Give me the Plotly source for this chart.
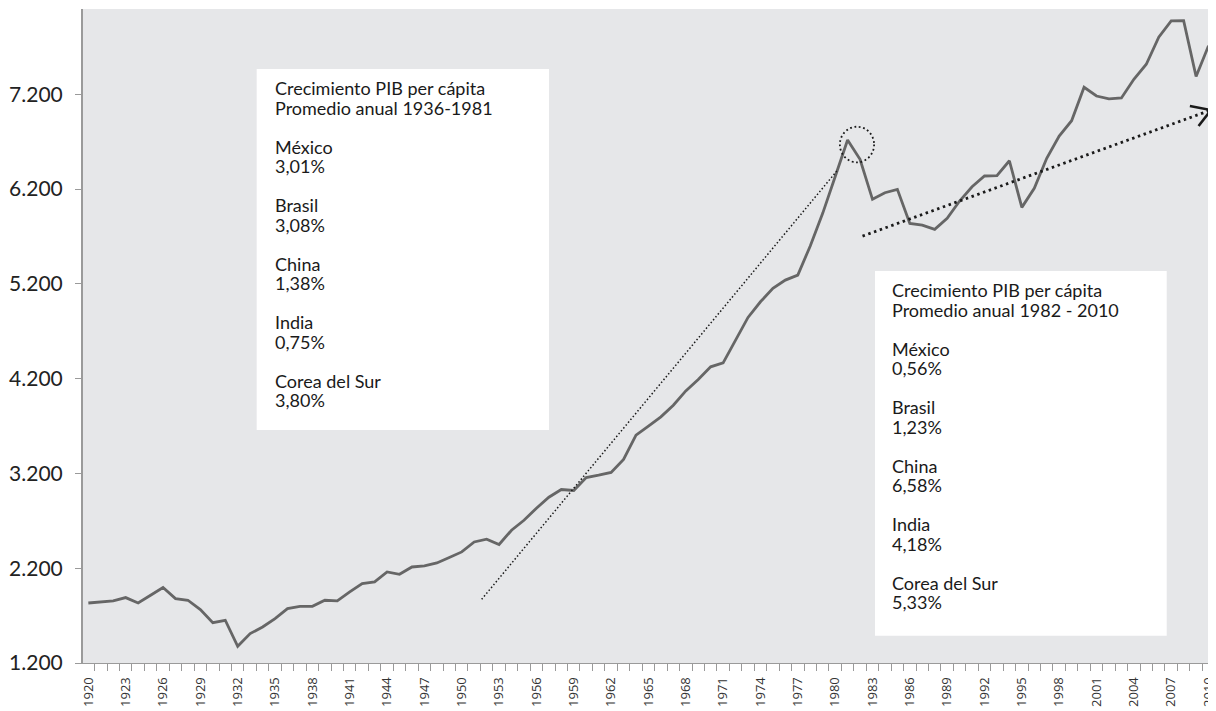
import plotly.graph_objects as go

# PIB per cápita de México, 1920-2010
years = list(range(1920, 2011))
gdp_pc = [
    1833, 1844, 1855, 1890, 1833, 1915, 1996, 1880, 1862, 1763,   # 1920-1929
    1626, 1651, 1376, 1510, 1580, 1669, 1774, 1798, 1798, 1862,   # 1930-1939
    1855, 1950, 2038, 2055, 2161, 2136, 2213, 2224, 2256, 2313,   # 1940-1949
    2372, 2477, 2506, 2450, 2601, 2706, 2833, 2949, 3030, 3020,   # 1950-1959
    3157, 3181, 3210, 3347, 3604, 3699, 3797, 3920, 4071, 4192,   # 1960-1969
    4325, 4367, 4607, 4846, 5011, 5152, 5240, 5293, 5600, 5944,   # 1970-1979
    6330, 6718, 6514, 6092, 6162, 6197, 5838, 5820, 5775, 5891,   # 1980-1989
    6074, 6225, 6338, 6341, 6499, 6007, 6208, 6525, 6760, 6921,   # 1990-1999
    7274, 7182, 7151, 7161, 7359, 7517, 7802, 7974, 7977, 7388,   # 2000-2009
    7713,                                                         # 2010
]

y_tickvals = [1200, 2200, 3200, 4200, 5200, 6200, 7200]
y_ticktext = ["1.200", "2.200", "3.200", "4.200", "5.200", "6.200", "7.200"]
x_tickvals = years[::3]
x_ticktext = [str(y) for y in x_tickvals]

countries = ["México", "Brasil", "China", "India", "Corea del Sur"]
growth_1936_1981 = ["3,01%", "3,08%", "1,38%", "0,75%", "3,80%"]
growth_1982_2010 = ["0,56%", "1,23%", "6,58%", "4,18%", "5,33%"]

# trend guides (year, value)
trend_pre = [(1951.6, 1872), (1980.2, 6401)]
trend_post = [(1982.2, 5704), (2010.2, 7034)]
arrow_arms = [(2008.5, 7076), (2009.2, 6865)]
peak_circle = [(1980.38, 6482), (1983.13, 6858)]


def box_text(period, values):
    lines = ["Crecimiento PIB per cápita", "Promedio anual " + period]
    for c, v in zip(countries, values):
        lines += ["", c, v]
    # line spacing follows the outer font size, glyphs use the span size
    return "<span style='font-size:18px'>" + "<br>".join(lines) + "</span>"


fig = go.Figure()
fig.add_trace(go.Scatter(
    x=years, y=gdp_pc, mode="lines",
    line=dict(color="#666666", width=2.8),
    hoverinfo="skip", showlegend=False,
))

ink = "#1a1a1a"
shapes = [
    # white text boxes
    dict(type="rect", xref="paper", yref="paper", x0=0.1533, x1=0.4113,
         y0=0.3563, y1=0.9083, fillcolor="white", line_width=0, layer="below"),
    dict(type="rect", xref="paper", yref="paper", x0=0.6990, x1=0.9565,
         y0=0.0417, y1=0.5994, fillcolor="white", line_width=0, layer="below"),
    # thin dotted trend 1936-1981
    dict(type="line", x0=trend_pre[0][0], y0=trend_pre[0][1],
         x1=trend_pre[1][0], y1=trend_pre[1][1],
         line=dict(color=ink, width=1.5, dash="1.5px,2.2px")),
    # circle around the 1981 peak
    dict(type="circle", x0=peak_circle[0][0], y0=peak_circle[0][1],
         x1=peak_circle[1][0], y1=peak_circle[1][1],
         line=dict(color=ink, width=1.8, dash="1.8px,2.6px")),
    # thick dotted trend 1982-2010
    dict(type="line", x0=trend_post[0][0], y0=trend_post[0][1],
         x1=trend_post[1][0], y1=trend_post[1][1],
         line=dict(color=ink, width=2.8, dash="2.5px,3.6px")),
]
for ax, ay in arrow_arms:
    shapes.append(dict(type="line", x0=ax, y0=ay,
                       x1=trend_post[1][0], y1=trend_post[1][1],
                       line=dict(color=ink, width=2.6)))

txt_font = dict(family="Lato, 'Open Sans', sans-serif", size=15, color=ink)
annotations = [
    dict(xref="paper", yref="paper", x=0.1677, y=0.8990,
         xanchor="left", yanchor="top", align="left", showarrow=False,
         text=box_text("1936-1981", growth_1936_1981), font=txt_font),
    dict(xref="paper", yref="paper", x=0.7123, y=0.5902,
         xanchor="left", yanchor="top", align="left", showarrow=False,
         text=box_text("1982 - 2010", growth_1982_2010), font=txt_font),
]

# the page body adds an 8px offset, so the figure is 8px smaller here
fig.update_layout(
    width=1208, height=703,
    margin=dict(l=75, r=0, t=1, b=48),
    paper_bgcolor="white",
    plot_bgcolor="#e6e7e9",
    showlegend=False,
    shapes=shapes,
    annotations=annotations,
    xaxis=dict(
        range=[1919.57, 2010.6],
        tickmode="array", tickvals=x_tickvals, ticktext=x_ticktext,
        ticks="", tickangle=-90,
        tickfont=dict(family="'Open Sans', sans-serif", size=13, color="#333333"),
        ticklabelstandoff=8,
        ticklabeloverflow="allow",
        showgrid=False, zeroline=False,
        showline=True, linecolor="#9a9a9a", linewidth=1,
        minor=dict(tick0=1919.5, dtick=1, ticks="outside", ticklen=7,
                   tickcolor="#9a9a9a", tickwidth=1),
        automargin=False,
    ),
    yaxis=dict(
        range=[1200, 8100],
        tickmode="array", tickvals=y_tickvals, ticktext=y_ticktext,
        ticks="outside", ticklen=6, tickcolor="#9a9a9a", tickwidth=1,
        tickfont=dict(family="Lato, sans-serif", size=21, color="#222222"),
        ticklabelstandoff=8,
        showgrid=False, zeroline=False,
        showline=True, linecolor="#9a9a9a", linewidth=2,
        automargin=False,
    ),
)

fig.write_html("out.html")
